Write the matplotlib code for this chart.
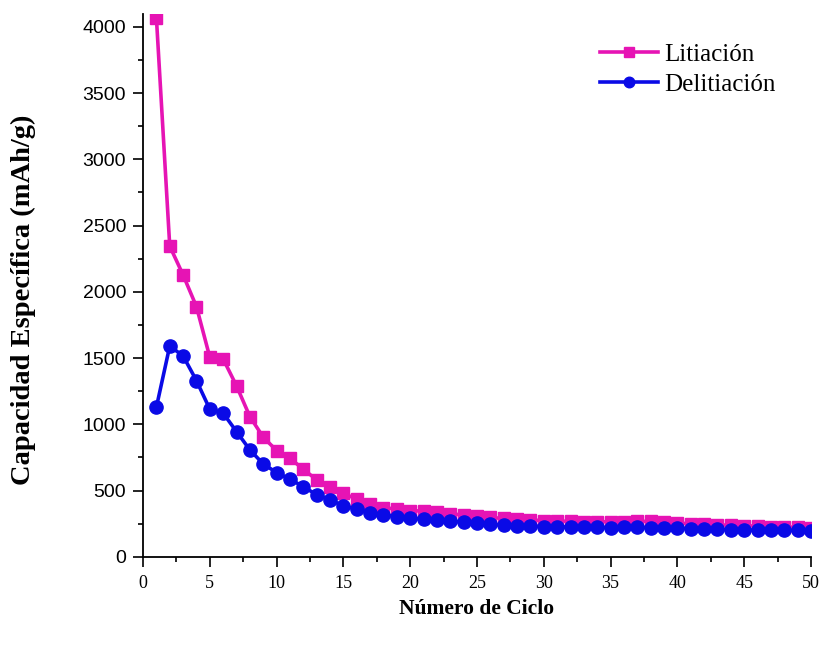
import numpy as np
import matplotlib.pyplot as plt
from matplotlib.ticker import MultipleLocator

# Datos
ciclo = np.arange(1, 51)
litiacion = [4070, 2345, 2127, 1888, 1506, 1493, 1290, 1058, 903, 802,
             744, 661, 581, 526, 480, 435, 400, 372, 360, 349,
             345, 335, 325, 316, 305, 297, 290, 283, 278, 274,
             271, 268, 266, 265, 265, 266, 268, 268, 262, 255,
             250, 246, 242, 238, 235, 232, 229, 226, 223, 218]
delitiacion = [1129, 1591, 1516, 1330, 1114, 1084, 945, 807, 701, 636,
               586, 530, 468, 430, 385, 360, 330, 317, 304, 292,
               285, 278, 270, 262, 252, 245, 240, 236, 232, 229,
               227, 225, 223, 222, 221, 222, 222, 221, 219, 216,
               213, 210, 208, 206, 204, 202, 201, 200, 199, 197]

rosa = '#E614B4'
azul = '#0A0AE6'
serif = ['Liberation Serif', 'DejaVu Serif']

fig = plt.figure(figsize=(8.22, 6.46), dpi=100)
ax = fig.add_axes([0.174, 0.138, 0.8126, 0.84])

ax.plot(ciclo, litiacion, color=rosa, lw=2.6, marker='s', ms=8.5, label='Litiación')
ax.plot(ciclo, delitiacion, color=azul, lw=2.6, marker='o', ms=9.5, label='Delitiación')

ax.set_xlim(0, 50)
ax.set_ylim(0, 4095)
ax.xaxis.set_major_locator(MultipleLocator(5))
ax.xaxis.set_minor_locator(MultipleLocator(2.5))
ax.yaxis.set_major_locator(MultipleLocator(500))
ax.yaxis.set_minor_locator(MultipleLocator(250))

for s in ['top', 'right']:
    ax.spines[s].set_visible(False)
for s in ['left', 'bottom']:
    ax.spines[s].set_linewidth(1.3)

ax.tick_params(which='major', length=7.2, width=1.2, direction='out')
ax.tick_params(which='minor', length=3.6, width=1.2, direction='out')
ax.tick_params(axis='y', pad=5)
ax.tick_params(axis='x', pad=6)

for lbl in ax.get_yticklabels():
    lbl.set_family(['Liberation Sans', 'DejaVu Sans'])
    lbl.set_fontsize(14)
for lbl in ax.get_xticklabels():
    lbl.set_family(serif)
    lbl.set_fontsize(13)

ax.set_xlabel('Número de Ciclo', family=serif, fontsize=15.5, fontweight='bold', labelpad=5)
ax.set_ylabel('Capacidad Específica (mAh/g)', family=serif, fontsize=20.5, fontweight='bold')
ax.yaxis.set_label_coords(-0.16, 0.473)

ax.legend(loc='upper right', bbox_to_anchor=(0.98, 0.988), frameon=False,
          prop={'family': serif, 'size': 18}, handlelength=2.3, handletextpad=0.25,
          labelspacing=0.3, markerscale=0.8)

fig.savefig('out.png', dpi=100)
